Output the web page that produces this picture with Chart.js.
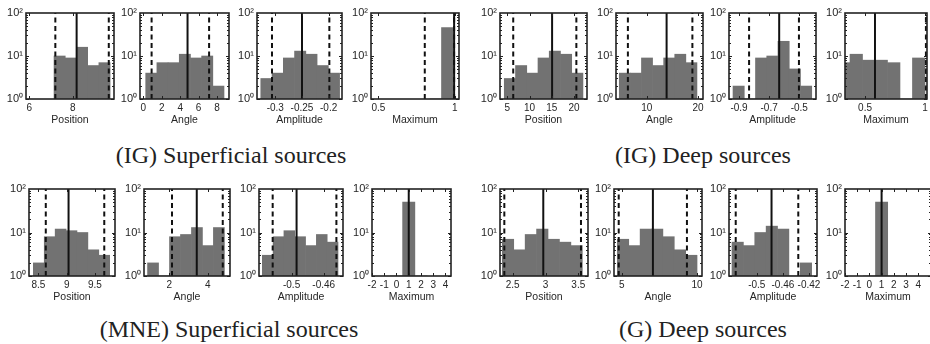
<!DOCTYPE html>
<html>
<head>
<meta charset="utf-8">
<script src="https://cdn.jsdelivr.net/npm/chart.js@4.4.1/dist/chart.umd.min.js"></script>
<style>
  html, body { margin: 0; padding: 0; background: #fff; }
  body { width: 930px; height: 344px; position: relative; overflow: hidden; }
  canvas { position: absolute; }
  .cap { position: absolute; width: 400px; text-align: center; font-family: "Liberation Serif", "DejaVu Serif", serif; font-size: 24px; color: #222; line-height: 26px; }
</style>
</head>
<body>
<script>
// shared y axis (counts, log scale)
const yRange = [1, 100];
const yTicks = [1, 10, 100];
const yTickLabels = ['10⁰', '10¹', '10²'];
const xLabels = ['Position', 'Angle', 'Amplitude', 'Maximum'];
const captions = ['(IG) Superficial sources', '(IG) Deep sources', '(MNE) Superficial sources', '(G) Deep sources'];

// (IG) Superficial sources
const igsPosEdges = [7.14, 7.656, 8.172, 8.688, 9.204, 9.72];
const igsPosCounts = [10, 9, 16, 6, 7];
const igsPosMarks = [7.2, 8.18, 9.66];
const igsPosTicks = [6, 8];
const igsPosRange = [5.85, 9.9];

const igsAngEdges = [0.26, 1.474, 2.688, 3.902, 5.116, 6.33, 7.544, 8.758];
const igsAngCounts = [4, 7, 7, 11, 9, 10, 2];
const igsAngMarks = [0.9, 4.8, 7.14];
const igsAngTicks = [0, 2, 4, 6, 8];
const igsAngRange = [-0.36, 9.3];

const igsAmpEdges = [-0.3272, -0.3061, -0.285, -0.2639, -0.2428, -0.2217, -0.2006, -0.1795];
const igsAmpCounts = [3, 4, 9, 13, 11, 6, 4];
const igsAmpMarks = [-0.3062, -0.25, -0.1987];
const igsAmpTicks = [-0.3, -0.25, -0.2];
const igsAmpRange = [-0.3343, -0.175];

const igsMaxEdges = [0.838, 0.9135, 0.989];
const igsMaxCounts = [0, 46];
const igsMaxMarks = [0.804, 0.996, 0.996];
const igsMaxTicks = [0.5, 1];
const igsMaxRange = [0.452, 1.028];

// (IG) Deep sources
const igdPosEdges = [4.33, 6.854, 9.378, 11.902, 14.426, 16.95, 19.474, 21.998];
const igdPosCounts = [3, 6, 4, 9, 13, 11, 4];
const igdPosMarks = [6.34, 15.07, 20.52];
const igdPosTicks = [5, 10, 15, 20];
const igdPosRange = [3.37, 22.91];

const igdAngEdges = [4.64, 6.804, 8.968, 11.132, 13.296, 15.46, 17.624, 19.788];
const igdAngCounts = [4, 4, 9, 6, 9, 11, 7];
const igdAngMarks = [6.32, 13.87, 18.9];
const igdAngTicks = [10, 20];
const igdAngRange = [4.0, 20.97];

const igdAmpEdges = [-0.94, -0.8653, -0.7906, -0.7159, -0.6412, -0.5665, -0.4918, -0.4171];
const igdAmpCounts = [2, 0, 9, 10, 22, 5, 2];
const igdAmpMarks = [-0.8333, -0.6333, -0.502];
const igdAmpTicks = [-0.9, -0.7, -0.5];
const igdAmpRange = [-0.9667, -0.3887];

const igdMaxEdges = [0.2706, 0.3748, 0.479, 0.5832, 0.6874, 0.7916, 0.8958, 1.0];
const igdMaxCounts = [7, 11, 8, 8, 7, 0, 9];
const igdMaxMarks = [null, 0.583, 1.008];
const igdMaxTicks = [0.5, 1];
const igdMaxRange = [0.333, 1.017];

// (MNE) Superficial sources
const mnePosEdges = [8.41, 8.603, 8.796, 8.989, 9.182, 9.375, 9.568, 9.761];
const mnePosCounts = [2, 8, 12, 11, 10, 4, 3];
const mnePosMarks = [8.63, 9.033, 9.665];
const mnePosTicks = [8.5, 9, 9.5];
const mnePosRange = [8.333, 9.855];

const mneAngEdges = [0.866, 1.438, 2.01, 2.582, 3.154, 3.726, 4.298, 4.87];
const mneAngCounts = [2, 0, 8, 9, 13, 5, 13];
const mneAngMarks = [2.14, 3.43, 4.785];
const mneAngTicks = [2, 4];
const mneAngRange = [0.68, 5.163];

const mneAmpEdges = [-0.5364, -0.52296, -0.50952, -0.49608, -0.48264, -0.4692, -0.45576, -0.44232];
const mneAmpCounts = [3, 8, 11, 8, 5, 9, 6];
const mneAmpMarks = [-0.5235, -0.4938, -0.4443];
const mneAmpTicks = [-0.5, -0.46];
const mneAmpRange = [-0.5405, -0.4361];

const mneMaxEdges = [-0.5, 0.5, 1.5, 2.5];
const mneMaxCounts = [0, 50, 0];
const mneMaxMarks = [null, 1, null];
const mneMaxTicks = [-2, -1, 0, 1, 2, 3, 4];
const mneMaxRange = [-2, 4.45];

// (G) Deep sources
const gdPosEdges = [2.341, 2.5153, 2.6896, 2.8639, 3.0382, 3.2125, 3.3868, 3.5611];
const gdPosCounts = [7, 4, 9, 12, 7, 6, 5];
const gdPosMarks = [2.372, 2.966, 3.541];
const gdPosTicks = [2.5, 3, 3.5];
const gdPosRange = [2.306, 3.648];

const gdAngEdges = [4.71, 5.4657, 6.2214, 6.9771, 7.7328, 8.4885, 9.2442, 9.9999];
const gdAngCounts = [7, 5, 12, 12, 8, 4, 3];
const gdAngMarks = [4.8, 7.07, 9.33];
const gdAngTicks = [5, 10];
const gdAngRange = [4.487, 10.33];

const gdAmpEdges = [-0.538, -0.52056, -0.50312, -0.48568, -0.46824, -0.4508, -0.43336, -0.41592];
const gdAmpCounts = [6, 5, 10, 14, 12, 0, 2];
const gdAmpMarks = [-0.5323, -0.4774, -0.4364];
const gdAmpTicks = [-0.5, -0.46, -0.42];
const gdAmpRange = [-0.5426, -0.4077];

const gdMaxEdges = [-0.5, 0.5, 1.5, 2.5];
const gdMaxCounts = [0, 50, 0];
const gdMaxMarks = [null, 1, null];
const gdMaxTicks = [-2, -1, 0, 1, 2, 3, 4];
const gdMaxRange = [-2, 5.05];

// plot boxes on the page: [left, top, width, height]
const boxes = [
  [26, 13, 88, 86], [140, 13, 89, 86], [257, 13, 85, 86], [371, 13, 88, 86],
  [500, 13, 87, 86], [616, 13, 87, 86], [729, 13, 87, 86], [845, 13, 82, 86],
  [29, 189, 86, 87], [144, 189, 86, 87], [259, 189, 84, 87], [372, 189, 79, 87],
  [500, 189, 88, 87], [614, 189, 88, 87], [729, 189, 88, 87], [845, 189, 86, 87]
];
const capPos = [[231, 142], [703, 142], [229, 316], [703, 316]];

const panels = [
  [igsPosEdges, igsPosCounts, igsPosMarks, igsPosTicks, igsPosRange],
  [igsAngEdges, igsAngCounts, igsAngMarks, igsAngTicks, igsAngRange],
  [igsAmpEdges, igsAmpCounts, igsAmpMarks, igsAmpTicks, igsAmpRange],
  [igsMaxEdges, igsMaxCounts, igsMaxMarks, igsMaxTicks, igsMaxRange],
  [igdPosEdges, igdPosCounts, igdPosMarks, igdPosTicks, igdPosRange],
  [igdAngEdges, igdAngCounts, igdAngMarks, igdAngTicks, igdAngRange],
  [igdAmpEdges, igdAmpCounts, igdAmpMarks, igdAmpTicks, igdAmpRange],
  [igdMaxEdges, igdMaxCounts, igdMaxMarks, igdMaxTicks, igdMaxRange],
  [mnePosEdges, mnePosCounts, mnePosMarks, mnePosTicks, mnePosRange],
  [mneAngEdges, mneAngCounts, mneAngMarks, mneAngTicks, mneAngRange],
  [mneAmpEdges, mneAmpCounts, mneAmpMarks, mneAmpTicks, mneAmpRange],
  [mneMaxEdges, mneMaxCounts, mneMaxMarks, mneMaxTicks, mneMaxRange],
  [gdPosEdges, gdPosCounts, gdPosMarks, gdPosTicks, gdPosRange],
  [gdAngEdges, gdAngCounts, gdAngMarks, gdAngTicks, gdAngRange],
  [gdAmpEdges, gdAmpCounts, gdAmpMarks, gdAmpTicks, gdAmpRange],
  [gdMaxEdges, gdMaxCounts, gdMaxMarks, gdMaxTicks, gdMaxRange]
];

const Y_W = 30, X_H = 29, PAD_T = 10, PAD_R = 14;
const TEXT = '#262626';

// box around the axes plus MATLAB-style inward tick marks
const frame = {
  id: 'frame',
  afterDatasetsDraw(chart) {
    const { ctx, chartArea: a, scales: { x, y } } = chart;
    ctx.save();
    ctx.strokeStyle = '#222';
    ctx.lineWidth = 1;
    ctx.beginPath();
    x.ticks.forEach(t => {
      const px = Math.round(x.getPixelForValue(t.value)) + 0.5;
      ctx.moveTo(px, a.bottom); ctx.lineTo(px, a.bottom - 3);
      ctx.moveTo(px, a.top); ctx.lineTo(px, a.top + 3);
    });
    for (let d = 1; d < 100; d *= 10) {
      for (let k = 1; k < 10; k++) {
        const py = Math.round(y.getPixelForValue(d * k)) + 0.5;
        const len = k === 1 ? 3 : 2;
        ctx.moveTo(a.left, py); ctx.lineTo(a.left + len, py);
        ctx.moveTo(a.right, py); ctx.lineTo(a.right - len, py);
      }
    }
    ctx.stroke();
    ctx.lineWidth = 1.6;
    ctx.strokeRect(a.left, a.top, a.width, a.height);
    ctx.restore();
  }
};

panels.forEach(([edges, counts, marks, ticks, range], i) => {
  const [L, T, W, H] = boxes[i];
  const cv = document.createElement('canvas');
  cv.width = W + Y_W + PAD_R;
  cv.height = H + PAD_T + X_H;
  cv.style.left = (L - Y_W) + 'px';
  cv.style.top = (T - PAD_T) + 'px';
  document.body.appendChild(cv);

  const bars = counts.map((c, k) => ({ x: (edges[k] + edges[k + 1]) / 2, y: c }));
  const datasets = [{
    type: 'bar',
    data: bars,
    backgroundColor: '#727272',
    borderWidth: 0,
    barPercentage: 1,
    categoryPercentage: 1,
    order: 2
  }];
  marks.forEach((m, k) => {
    if (m === null) return;
    datasets.push({
      type: 'line',
      data: [{ x: m, y: yRange[0] }, { x: m, y: yRange[1] }],
      borderColor: '#111',
      borderWidth: 2,
      borderDash: k === 1 ? [] : [5, 3.5],
      pointRadius: 0,
      fill: false,
      order: 0
    });
  });

  new Chart(cv, {
    type: 'bar',
    data: { datasets },
    plugins: [frame],
    options: {
      responsive: false,
      animation: false,
      devicePixelRatio: 1,
      layout: { padding: { top: PAD_T, right: PAD_R, left: 0, bottom: 0 } },
      plugins: { legend: { display: false }, tooltip: { enabled: false } },
      scales: {
        x: {
          type: 'linear',
          min: range[0],
          max: range[1],
          offset: false,
          grid: { display: false, drawTicks: false },
          border: { display: false },
          afterBuildTicks: s => { s.ticks = ticks.map(v => ({ value: v })); },
          afterFit: s => { s.height = X_H; },
          ticks: {
            autoSkip: false, maxRotation: 0, minRotation: 0, padding: 3,
            color: TEXT,
            font: { family: 'Liberation Sans, Arial, sans-serif', size: 10 },
            callback: v => String(v)
          },
          title: {
            display: true,
            text: xLabels[i % 4],
            color: TEXT,
            font: { family: 'Liberation Sans, Arial, sans-serif', size: 10.5 },
            padding: { top: 0, bottom: 2 }
          }
        },
        y: {
          type: 'logarithmic',
          min: yRange[0],
          max: yRange[1],
          grid: { display: false, drawTicks: false },
          border: { display: false },
          afterBuildTicks: s => { s.ticks = yTicks.map(v => ({ value: v })); },
          afterFit: s => { s.width = Y_W; },
          ticks: {
            autoSkip: false, padding: 3,
            color: TEXT,
            font: { family: 'Liberation Sans, Arial, sans-serif', size: 11 },
            callback: (v, idx) => yTickLabels[idx]
          }
        }
      }
    }
  });
});

captions.forEach((c, i) => {
  const d = document.createElement('div');
  d.className = 'cap';
  d.textContent = c;
  d.style.left = (capPos[i][0] - 200) + 'px';
  d.style.top = capPos[i][1] + 'px';
  document.body.appendChild(d);
});
</script>
</body>
</html>
